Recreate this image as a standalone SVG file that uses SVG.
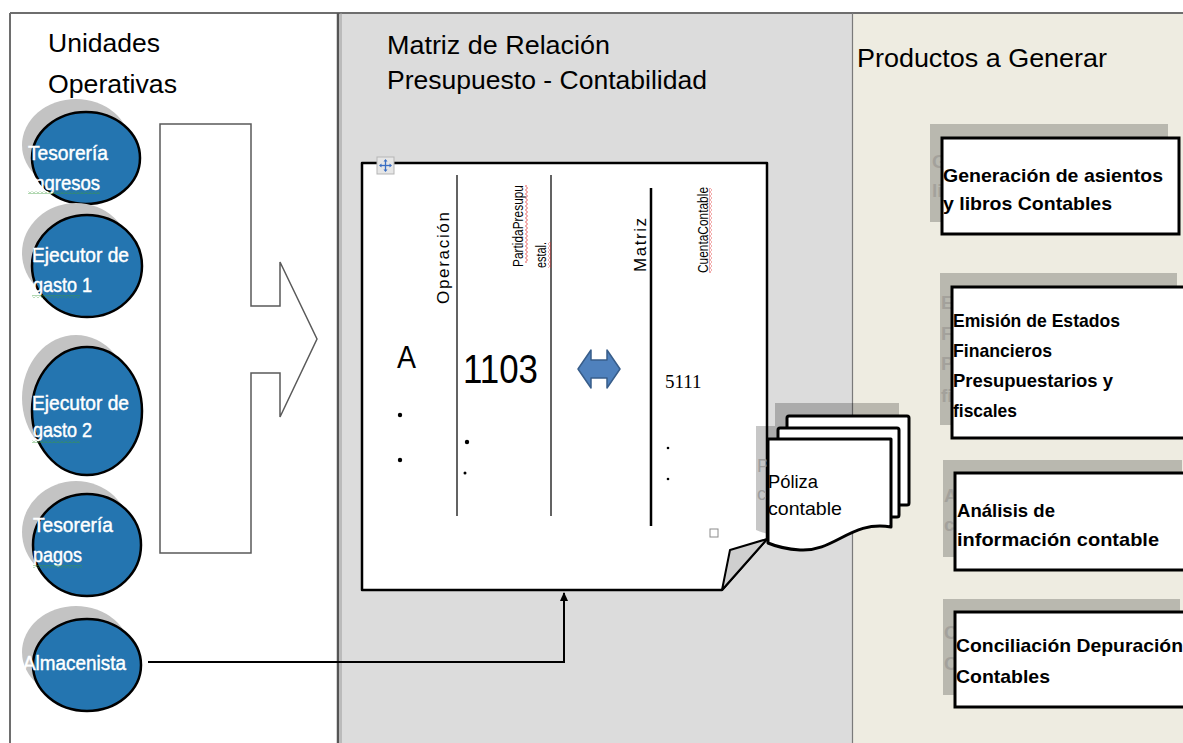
<svg xmlns="http://www.w3.org/2000/svg" width="1183" height="743" viewBox="0 0 1183 743">
<style>
.hd{font-family:"Liberation Sans",Arial,sans-serif;font-size:26.5px;fill:#000}
.el{font-family:"Liberation Sans",Arial,sans-serif;font-size:20.5px;fill:#fff;stroke:#fff;stroke-width:0.45}
.bx{font-family:"Liberation Sans",Arial,sans-serif;font-size:19px;font-weight:bold;fill:#000}
.bxs{font-family:"Liberation Sans",Arial,sans-serif;font-size:19px;font-weight:bold;fill:#a3a19b}
.sm{font-family:"Liberation Sans",Arial,sans-serif;fill:#000}
.ell{fill:#2475b0;stroke:#000;stroke-width:2.5}
.esh{fill:#c3c3c3}
.box{fill:#fff;stroke:#000;stroke-width:3;stroke-linecap:round}
.shd{fill:#000;opacity:0.22}
.doc{fill:#fff;stroke:#000;stroke-width:3;stroke-linejoin:round}
</style>
<defs>
<marker id="ah" markerWidth="10" markerHeight="10" refX="8" refY="5" orient="auto" markerUnits="userSpaceOnUse">
<path d="M0,1 L9,5 L0,9 Z" fill="#000"/>
</marker>
<pattern id="wg" width="4" height="3" patternUnits="userSpaceOnUse"><path d="M0,2.5 L2,0.5 L4,2.5" fill="none" stroke="#3c9a3c" stroke-width="0.8"/></pattern>
<pattern id="wr" width="3" height="4" patternUnits="userSpaceOnUse"><path d="M2.5,0 L0.5,2 L2.5,4" fill="none" stroke="#e03030" stroke-width="0.8"/></pattern>
<clipPath id="c1"><rect x="930" y="124" width="11" height="98"/></clipPath>
<clipPath id="c2"><rect x="940" y="273" width="11" height="152"/></clipPath>
<clipPath id="c3"><rect x="943" y="460" width="11" height="97"/></clipPath>
<clipPath id="c4"><rect x="943" y="599" width="11" height="96"/></clipPath>
<clipPath id="c5"><rect x="755" y="425" width="12" height="110"/></clipPath>
</defs>

<!-- panels -->
<g id="panels">
<rect x="10" y="13" width="328" height="730" fill="#fff"/>
<rect x="339" y="13" width="514" height="730" fill="#dcdcdc"/>
<rect x="853" y="13" width="330" height="730" fill="#eeece1"/>
<line x1="10" y1="13" x2="1183" y2="13" stroke="#6e6e6e" stroke-width="2"/>
<line x1="10" y1="13" x2="10" y2="743" stroke="#6e6e6e" stroke-width="2"/>
<line x1="338" y1="13" x2="338" y2="743" stroke="#555" stroke-width="2.5"/>
<line x1="341" y1="13" x2="341" y2="743" stroke="#9a9a9a" stroke-width="1"/>
<line x1="852.5" y1="13" x2="852.5" y2="743" stroke="#7a7a7a" stroke-width="1.2"/>
<text class="hd" x="48" y="52" textLength="112" lengthAdjust="spacingAndGlyphs">Unidades</text>
<text class="hd" x="48" y="93" textLength="129" lengthAdjust="spacingAndGlyphs">Operativas</text>
<text class="hd" x="387" y="54" textLength="223" lengthAdjust="spacingAndGlyphs">Matriz de Relación</text>
<text class="hd" x="387" y="89" textLength="320" lengthAdjust="spacingAndGlyphs">Presupuesto - Contabilidad</text>
<text class="hd" x="857" y="67" textLength="250" lengthAdjust="spacingAndGlyphs">Productos  a Generar</text>
</g>

<!-- left units -->
<g id="tesoreria-ingresos">
<ellipse class="esh" cx="76" cy="145" rx="54" ry="46"/>
<ellipse class="ell" cx="86" cy="158" rx="54" ry="46"/>
<text class="el" x="28" y="160" textLength="80" lengthAdjust="spacingAndGlyphs">Tesorería</text>
<text class="el" x="29" y="190" textLength="71" lengthAdjust="spacingAndGlyphs">Ingresos</text>
<rect x="28" y="191" width="72" height="3" fill="url(#wg)"/>
</g>
<g id="ejecutor-gasto-1">
<ellipse class="esh" cx="76" cy="253" rx="54" ry="50"/>
<ellipse class="ell" cx="87" cy="266" rx="55" ry="51"/>
<text class="el" x="32" y="262" textLength="97" lengthAdjust="spacingAndGlyphs">Ejecutor de</text>
<text class="el" x="33" y="292" textLength="59" lengthAdjust="spacingAndGlyphs">gasto 1</text>
<rect x="32" y="295" width="48" height="3" fill="url(#wg)"/>
</g>
<g id="ejecutor-gasto-2">
<ellipse class="esh" cx="76" cy="398" rx="54" ry="63"/>
<ellipse class="ell" cx="87" cy="411" rx="55" ry="64"/>
<text class="el" x="32" y="410" textLength="97" lengthAdjust="spacingAndGlyphs">Ejecutor de</text>
<text class="el" x="33" y="437" textLength="59" lengthAdjust="spacingAndGlyphs">gasto 2</text>
<rect x="32" y="440" width="48" height="3" fill="url(#wg)"/>
</g>
<g id="tesoreria-pagos">
<ellipse class="esh" cx="76" cy="532" rx="54" ry="51"/>
<ellipse class="ell" cx="87" cy="545" rx="54" ry="51"/>
<text class="el" x="33" y="532" textLength="80" lengthAdjust="spacingAndGlyphs">Tesorería</text>
<text class="el" x="33" y="562" textLength="49" lengthAdjust="spacingAndGlyphs">pagos</text>
<rect x="33" y="565" width="49" height="3" fill="url(#wg)"/>
</g>
<g id="almacenista">
<ellipse class="esh" cx="76" cy="652" rx="54" ry="46"/>
<ellipse class="ell" cx="87" cy="665" rx="54" ry="46"/>
<text class="el" x="23" y="670" textLength="103" lengthAdjust="spacingAndGlyphs">Almacenista</text>
</g>

<!-- matrix -->
<g id="matriz">
<path d="M362,163 H767 V539 L722,590 H362 Z" fill="#fff" stroke="#000" stroke-width="2.5" stroke-linejoin="round"/>
<path d="M722,590 L730,550 L767,539 Z" fill="#cfcfcf" stroke="#000" stroke-width="2" stroke-linejoin="round"/>
<rect x="377" y="157" width="17" height="17" fill="#e6e6e6" stroke="#b5b5b5" stroke-width="1"/>
<g stroke="#3a6fc4" stroke-width="1.3" fill="#3a6fc4">
<line x1="385.5" y1="160" x2="385.5" y2="171"/>
<line x1="380" y1="165.5" x2="391" y2="165.5"/>
<path d="M385.5,159 l-2,2.5 h4 z M385.5,172 l-2,-2.5 h4 z M379,165.5 l2.5,-2 v4 z M392,165.5 l-2.5,-2 v4 z" stroke="none"/>
</g>
<rect x="710" y="529" width="8" height="8" fill="#fff" stroke="#8c8c8c" stroke-width="1"/>
<line x1="457" y1="175" x2="457" y2="516" stroke="#3c3c3c" stroke-width="1.6"/>
<line x1="551" y1="175" x2="551" y2="516" stroke="#3c3c3c" stroke-width="1.6"/>
<line x1="651" y1="188" x2="651" y2="526" stroke="#000" stroke-width="2.5"/>
<text class="sm" transform="translate(449,304) rotate(-90)" font-size="17" textLength="92" lengthAdjust="spacing">Operación</text>
<text class="sm" transform="translate(523,267) rotate(-90)" font-size="14" textLength="82" lengthAdjust="spacingAndGlyphs">PartidaPresupu</text>
<text class="sm" transform="translate(546,268) rotate(-90)" font-size="14" textLength="26" lengthAdjust="spacingAndGlyphs">estal.</text>
<rect x="525" y="185" width="3" height="78" fill="url(#wr)"/>
<rect x="548" y="242" width="3" height="26" fill="url(#wr)"/>
<text class="sm" transform="translate(646,272) rotate(-90)" font-size="17" textLength="54" lengthAdjust="spacing">Matriz</text>
<text class="sm" transform="translate(708,273) rotate(-90)" font-size="14" textLength="86" lengthAdjust="spacingAndGlyphs">CuentaContable</text>
<rect x="709" y="188" width="3" height="85" fill="url(#wr)"/>
<text class="sm" x="397" y="368" font-size="32" textLength="19" lengthAdjust="spacingAndGlyphs">A</text>
<text class="sm" x="463" y="383" font-size="40" textLength="75" lengthAdjust="spacingAndGlyphs">1103</text>
<text x="665" y="388" font-family="'Liberation Serif','Times New Roman',serif" font-size="19" fill="#000">5111</text>
<g fill="#000">
<circle cx="400" cy="415" r="2.2"/>
<circle cx="400" cy="460" r="2.2"/>
<circle cx="467" cy="442" r="2.2"/>
<circle cx="465" cy="473" r="1.5"/>
<circle cx="668" cy="448" r="1.3"/>
<circle cx="668" cy="479" r="1.3"/>
</g>
<path d="M578,369 L591,350 V360 H607 V350 L620,369 L607,388 V378 H591 V388 Z" fill="#4f81bd" stroke="#385d8a" stroke-width="1.5" stroke-linejoin="round"/>
</g>

<!-- poliza -->
<g id="poliza">
<g opacity="0.22" fill="#000">
<rect x="775" y="403" width="124" height="90"/>
<path d="M756,426 H879 V514 C839,507 823,539 788,537 C773,536 763,533 756,530 Z"/>
</g>
<g clip-path="url(#c5)">
<text class="sm" x="757" y="472" font-size="18.5" style="fill:#9e9e9e">P</text>
<text class="sm" x="757" y="500" font-size="18.5" style="fill:#9e9e9e">c</text>
</g>
<rect class="doc" x="787" y="416" width="122" height="89" rx="2"/>
<rect class="doc" x="778" y="428" width="121" height="89" rx="2"/>
<path class="doc" d="M768,439 H891 V527 C851,520 835,552 800,550 C785,549 775,546 768,543 Z"/>
<text class="sm" x="768" y="488" font-size="18.5" textLength="50" lengthAdjust="spacingAndGlyphs">Póliza</text>
<text class="sm" x="768" y="515" font-size="18.5" textLength="74" lengthAdjust="spacingAndGlyphs">contable</text>
</g>

<!-- products -->
<g id="generacion-asientos">
<rect class="shd" x="930" y="124" width="238" height="98"/>
<g clip-path="url(#c1)">
<text class="bxs" x="932" y="168">G</text>
<text class="bxs" x="932" y="197">li</text>
</g>
<rect class="box" x="942" y="138" width="237" height="96"/>
<text class="bx" x="943" y="182" textLength="220" lengthAdjust="spacingAndGlyphs">Generación de asientos</text>
<text class="bx" x="943" y="210" textLength="169" lengthAdjust="spacingAndGlyphs">y libros Contables</text>
</g>
<g id="emision-estados">
<rect class="shd" x="940" y="273" width="237" height="152"/>
<g clip-path="url(#c2)">
<text class="bxs" x="941" y="309">E</text>
<text class="bxs" x="941" y="340">F</text>
<text class="bxs" x="941" y="370">P</text>
<text class="bxs" x="941" y="402">fi</text>
</g>
<rect class="box" x="952" y="287" width="245" height="151"/>
<text class="bx" x="953" y="327" textLength="167" lengthAdjust="spacingAndGlyphs">Emisión de Estados</text>
<text class="bx" x="953" y="357" textLength="99" lengthAdjust="spacingAndGlyphs">Financieros</text>
<text class="bx" x="953" y="387" textLength="160" lengthAdjust="spacingAndGlyphs">Presupuestarios  y</text>
<text class="bx" x="953" y="417" textLength="64" lengthAdjust="spacingAndGlyphs">fiscales</text>
</g>
<g id="analisis-informacion">
<rect class="shd" x="943" y="460" width="239" height="97"/>
<g clip-path="url(#c3)">
<text class="bxs" x="944" y="502">A</text>
<text class="bxs" x="944" y="531">c</text>
</g>
<rect class="box" x="955" y="473" width="245" height="97"/>
<text class="bx" x="957" y="517" textLength="98" lengthAdjust="spacingAndGlyphs">Análisis de</text>
<text class="bx" x="957" y="546" textLength="202" lengthAdjust="spacingAndGlyphs">información contable</text>
</g>
<g id="conciliacion-depuracion">
<rect class="shd" x="943" y="599" width="237" height="96"/>
<g clip-path="url(#c4)">
<text class="bxs" x="944" y="639">C</text>
<text class="bxs" x="944" y="670">C</text>
</g>
<rect class="box" x="955" y="612" width="245" height="95"/>
<text class="bx" x="956" y="652" textLength="227" lengthAdjust="spacingAndGlyphs">Conciliación Depuración</text>
<text class="bx" x="956" y="683" textLength="94" lengthAdjust="spacingAndGlyphs">Contables</text>
</g>

<!-- connectors -->
<g id="connectors">
<path id="flujo-unidades" d="M160,124 H251 V306 H280 V262 L317,339 L280,417 V373 H251 V553 H160 Z" fill="#fff" stroke="#5a5a5a" stroke-width="1.5" stroke-linejoin="miter"/>
<path id="almacenista-matriz" d="M148,662 H564 V593" fill="none" stroke="#000" stroke-width="2" marker-end="url(#ah)"/>
</g>
</svg>
